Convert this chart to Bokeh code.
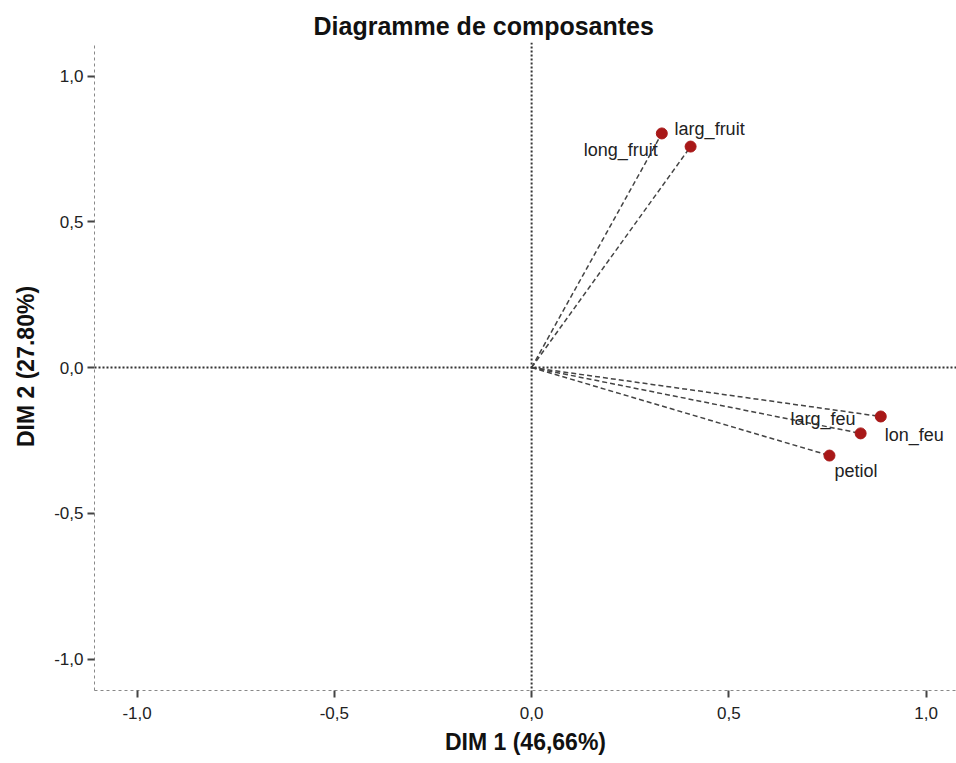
from bokeh.plotting import figure
from bokeh.models import Span, FixedTicker, CustomJSTickFormatter, ColumnDataSource, Range1d
from bokeh.core.properties import value
from bokeh.embed import file_html
from bokeh.resources import INLINE

variables = ["long_fruit", "larg_fruit", "lon_feu", "larg_feu", "petiol"]
dim1 = [0.330, 0.403, 0.885, 0.834, 0.755]
dim2 = [0.803, 0.758, -0.168, -0.226, -0.302]
ticks = [-1.0, -0.5, 0.0, 0.5, 1.0]

# label placement (screen px offsets) per variable
label_align = ["right", "left", "left", "right", "left"]
label_dx = [-4, -16, 4, -5, 5]
label_dy = [17, -18, 19, -14, 15]

FONT = "Liberation Sans"

p = figure(width=956, height=763, output_backend="svg", toolbar_location=None,
           x_range=Range1d(-1.108, 1.077), y_range=Range1d(-1.108, 1.115),
           min_border_left=94, min_border_right=0, min_border_top=42, min_border_bottom=73,
           title="Diagramme de composantes")
p.outline_line_color = None
p.grid.visible = False
p.background_fill_color = "white"
p.border_fill_color = "white"

p.title.text_font = FONT
p.title.text_font_size = "25px"
p.title.text_font_style = "bold"
p.title.align = "left"
p.title.offset = 219
p.title.standoff = 5
p.title.text_color = "#111111"

for ax in (p.xaxis, p.yaxis):
    ax.ticker = FixedTicker(ticks=ticks)
    ax.formatter = CustomJSTickFormatter(code="return tick.toFixed(1).replace('.', ',');")
    ax.axis_line_color = "#888888"
    ax.axis_line_dash = "3 3"
    ax.axis_line_width = 1
    ax.major_tick_in = 0
    ax.major_tick_out = 7
    ax.major_tick_line_color = "#444444"
    ax.major_tick_line_width = 2
    ax.minor_tick_line_color = None
    ax.major_label_text_font = FONT
    ax.major_label_text_font_size = "17px"
    ax.major_label_text_color = "#222222"
    ax.major_label_standoff = 4
    ax.axis_label_text_font = FONT
    ax.axis_label_text_font_size = "23px"
    ax.axis_label_text_font_style = "bold"
    ax.axis_label_text_color = "#111111"

p.xaxis.axis_label = "DIM 1 (46,66%)"
p.yaxis.axis_label = "DIM 2 (27.80%)"
p.yaxis.major_label_orientation = "horizontal"
p.xaxis.major_label_standoff = 9
p.xaxis.axis_label_standoff = 7
p.yaxis.axis_label_standoff = 12

p.add_layout(Span(location=0, dimension="width", line_color="#333333", line_width=2, line_dash="2 2"))
p.add_layout(Span(location=0, dimension="height", line_color="#333333", line_width=2, line_dash="2 2"))

src = ColumnDataSource(dict(x=dim1, y=dim2, name=variables, x0=[0.0] * len(dim1), y0=[0.0] * len(dim1),
                            align=label_align, dx=label_dx, dy=label_dy))

p.segment(x0="x0", y0="y0", x1="x", y1="y", source=src, line_color="#444444", line_width=1.5, line_dash="5 3")
p.scatter(x="x", y="y", source=src, size=11, fill_color="#a81818", line_color="#a81818")
p.text(x="x", y="y", text="name", source=src, text_align="align", text_baseline="middle",
       x_offset="dx", y_offset="dy", text_font=value(FONT), text_font_size="18px", text_color="#222222")

open("out.html", "w").write(file_html(p, INLINE))
